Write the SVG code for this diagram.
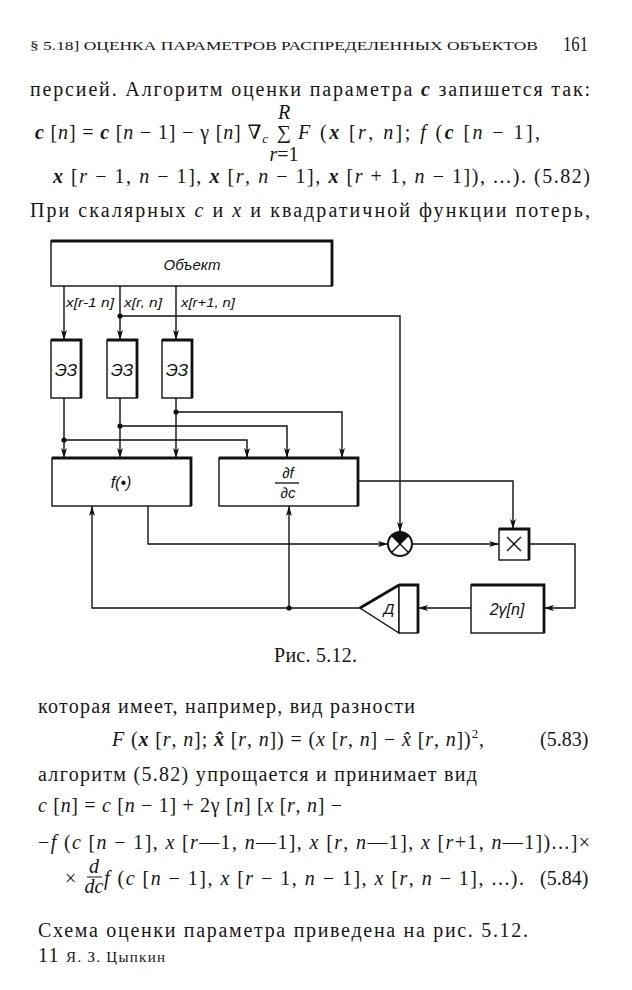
<svg xmlns="http://www.w3.org/2000/svg" width="632" height="990" viewBox="0 0 632 990">
<defs>
<style>
.t{font-family:"Liberation Serif","DejaVu Serif",serif;font-size:20px;fill:#161616}
.h{font-family:"Liberation Serif","DejaVu Serif",serif;font-size:13.5px;fill:#161616}
.i{font-style:italic}
.bi{font-style:italic;font-weight:bold}
.d{font-family:"Liberation Sans","DejaVu Sans",sans-serif;font-style:italic;fill:#111}
.box{fill:#fff;stroke:#111;stroke-width:1.4}
.thk{fill:none;stroke:#111;stroke-width:2.8;stroke-linejoin:miter}
.ln{fill:none;stroke:#111;stroke-width:1.4}
.arr{marker-end:url(#ah)}
</style>
<marker id="ah" viewBox="0 0 10 6" refX="10" refY="3" markerWidth="10" markerHeight="6" markerUnits="userSpaceOnUse" orient="auto">
<path d="M0,0 L10,3 L0,6 L2.5,3 Z" fill="#111"/>
</marker>
</defs>

<!-- page text -->
<g id="page-text">
<text class="h" x="30" y="50" textLength="508" lengthAdjust="spacingAndGlyphs">§ 5.18] ОЦЕНКА ПАРАМЕТРОВ РАСПРЕДЕЛЕННЫХ ОБЪЕКТОВ</text>
<text class="t" x="563" y="51" font-size="18" textLength="25" lengthAdjust="spacingAndGlyphs">161</text>

<text class="t" x="30" y="96" textLength="560" lengthAdjust="spacing">персией. Алгоритм оценки параметра <tspan class="bi">c</tspan> запишется так:</text>

<text class="t" x="35" y="139" textLength="233" lengthAdjust="spacing"><tspan class="bi">c</tspan> [<tspan class="i">n</tspan>] = <tspan class="bi">c</tspan> [<tspan class="i">n</tspan> − 1] − γ [<tspan class="i">n</tspan>] ∇<tspan class="i" font-size="13" dy="4">c</tspan></text>
<text class="t i" x="284" y="119" font-size="13" text-anchor="middle">R</text>
<text class="t" x="284" y="139" font-size="19" text-anchor="middle">∑</text>
<text class="t" x="284" y="161" font-size="11.5" text-anchor="middle"><tspan class="i">r</tspan>=1</text>
<text class="t" x="298" y="139" textLength="242" lengthAdjust="spacing"><tspan class="i">F</tspan> (<tspan class="bi">x</tspan> [<tspan class="i">r</tspan>, <tspan class="i">n</tspan>]; <tspan class="i">f</tspan> (<tspan class="bi">c</tspan> [<tspan class="i">n</tspan> − 1],</text>

<text class="t" x="53" y="183" textLength="537" lengthAdjust="spacing"><tspan class="bi">x</tspan> [<tspan class="i">r</tspan> − 1, <tspan class="i">n</tspan> − 1],  <tspan class="bi">x</tspan> [<tspan class="i">r</tspan>,  <tspan class="i">n</tspan> − 1],  <tspan class="bi">x</tspan> [<tspan class="i">r</tspan> + 1,  <tspan class="i">n</tspan> − 1]), ...). (5.82)</text>

<text class="t" x="30" y="217" textLength="560" lengthAdjust="spacing">При скалярных <tspan class="i">c</tspan> и <tspan class="i">x</tspan> и квадратичной функции потерь,</text>

<text class="t" x="274" y="662" font-size="16" textLength="83" lengthAdjust="spacing">Рис. 5.12.</text>

<text class="t" x="38" y="713" textLength="377" lengthAdjust="spacing">которая имеет, например, вид разности</text>

<text class="t" x="112" y="746" textLength="372" lengthAdjust="spacing"><tspan class="i">F</tspan> (<tspan class="bi">x</tspan> [<tspan class="i">r</tspan>,  <tspan class="i">n</tspan>];  <tspan class="bi">x̂</tspan> [<tspan class="i">r</tspan>,  <tspan class="i">n</tspan>]) = (<tspan class="i">x</tspan> [<tspan class="i">r</tspan>,  <tspan class="i">n</tspan>] − <tspan class="i">x̂</tspan> [<tspan class="i">r</tspan>,  <tspan class="i">n</tspan>])<tspan font-size="13" dy="-8">2</tspan><tspan dy="8">,</tspan></text>
<text class="t" x="540" y="746">(5.83)</text>

<text class="t" x="38" y="781" textLength="439" lengthAdjust="spacing">алгоритм (5.82) упрощается и принимает вид</text>

<text class="t" x="38" y="812" textLength="304" lengthAdjust="spacing"><tspan class="i">c</tspan> [<tspan class="i">n</tspan>] = <tspan class="i">c</tspan> [<tspan class="i">n</tspan> − 1] + 2γ [<tspan class="i">n</tspan>] [<tspan class="i">x</tspan> [<tspan class="i">r</tspan>, <tspan class="i">n</tspan>] −</text>

<text class="t" x="38" y="849" textLength="552" lengthAdjust="spacing">−<tspan class="i">f</tspan> (<tspan class="i">c</tspan> [<tspan class="i">n</tspan> − 1], <tspan class="i">x</tspan> [<tspan class="i">r</tspan>—1, <tspan class="i">n</tspan>—1], <tspan class="i">x</tspan> [<tspan class="i">r</tspan>, <tspan class="i">n</tspan>—1], <tspan class="i">x</tspan> [<tspan class="i">r</tspan>+1, <tspan class="i">n</tspan>—1])...]×</text>

<text class="t" x="65" y="885">×</text>
<text class="t i" x="94" y="873" font-size="13" text-anchor="middle">d</text>
<line x1="87" y1="877" x2="102" y2="877" stroke="#161616" stroke-width="1"/>
<text class="t i" x="94" y="893" font-size="13" text-anchor="middle">dc</text>
<text class="t" x="104" y="885" textLength="420" lengthAdjust="spacing"><tspan class="i">f</tspan> (<tspan class="i">c</tspan> [<tspan class="i">n</tspan> − 1],  <tspan class="i">x</tspan> [<tspan class="i">r</tspan> − 1, <tspan class="i">n</tspan> − 1],  <tspan class="i">x</tspan> [<tspan class="i">r</tspan>, <tspan class="i">n</tspan> − 1], ...).</text>
<text class="t" x="540" y="885">(5.84)</text>

<text class="t" x="38" y="937" textLength="490" lengthAdjust="spacing">Схема оценки параметра приведена на рис. 5.12.</text>
<text class="t" x="38" y="962" font-size="16" textLength="127" lengthAdjust="spacing">11 <tspan font-size="15">Я. З. Цыпкин</tspan></text>
</g>

<!-- connectors -->
<g id="connectors">
<line class="ln arr" x1="64" y1="286" x2="64" y2="340"/>
<line class="ln arr" x1="120" y1="286" x2="120" y2="340"/>
<line class="ln arr" x1="176" y1="286" x2="176" y2="340"/>
<polyline class="ln arr" points="120,316 400,316 400,532"/>
<line class="ln arr" x1="64" y1="398" x2="64" y2="458"/>
<line class="ln arr" x1="120" y1="398" x2="120" y2="458"/>
<line class="ln arr" x1="176" y1="398" x2="176" y2="458"/>
<polyline class="ln arr" points="64,440 247,440 247,458"/>
<polyline class="ln arr" points="120,426 287,426 287,458"/>
<polyline class="ln arr" points="176,412 342,412 342,458"/>
<polyline class="ln arr" points="358,481 513,481 513,529"/>
<polyline class="ln arr" points="148,506 148,544 388,544"/>
<line class="ln arr" x1="412" y1="544" x2="499" y2="544"/>
<polyline class="ln arr" points="529,544 575,544 575,608 544,608"/>
<line class="ln arr" x1="471" y1="608" x2="418" y2="608"/>
<polyline class="ln arr" points="360,608 92,608 92,506"/>
<line class="ln arr" x1="289" y1="608" x2="289" y2="506"/>
<g fill="#111">
<circle cx="120" cy="316" r="2.6"/>
<circle cx="64" cy="440" r="2.6"/>
<circle cx="120" cy="426" r="2.6"/>
<circle cx="176" cy="412" r="2.6"/>
<circle cx="289" cy="608" r="2.6"/>
</g>
<text class="d" x="66" y="307" font-size="13.5" textLength="48" lengthAdjust="spacingAndGlyphs">x[r-1 n]</text>
<text class="d" x="124" y="307" font-size="13.5" textLength="38" lengthAdjust="spacingAndGlyphs">x[r, n]</text>
<text class="d" x="181" y="307" font-size="13.5" textLength="54" lengthAdjust="spacingAndGlyphs">x[r+1, n]</text>
</g>

<!-- nodes -->
<g id="object">
<rect class="box" x="51" y="241" width="281" height="45"/>
<polyline class="thk" points="51,241 332,241 332,286"/>
<text class="d" x="192" y="270" font-size="15" text-anchor="middle">Объект</text>
</g>
<g id="delay1">
<rect class="box" x="51" y="340" width="30" height="58"/>
<polyline class="thk" points="51,340 81,340 81,398"/>
<text class="d" x="66" y="376" font-size="17" text-anchor="middle">ЭЗ</text>
</g>
<g id="delay2">
<rect class="box" x="107" y="340" width="30" height="58"/>
<polyline class="thk" points="107,340 137,340 137,398"/>
<text class="d" x="122" y="376" font-size="17" text-anchor="middle">ЭЗ</text>
</g>
<g id="delay3">
<rect class="box" x="162" y="340" width="30" height="58"/>
<polyline class="thk" points="162,340 192,340 192,398"/>
<text class="d" x="177" y="376" font-size="17" text-anchor="middle">ЭЗ</text>
</g>
<g id="f-block">
<rect class="box" x="52" y="458" width="139" height="48"/>
<polyline class="thk" points="52,458 191,458 191,506"/>
<text class="d" x="121" y="488" font-size="16" text-anchor="middle">f(•)</text>
</g>
<g id="df-block">
<rect class="box" x="219" y="458" width="139" height="48"/>
<polyline class="thk" points="219,458 358,458 358,506"/>
<text class="d" x="288" y="478" font-size="15" text-anchor="middle">∂f</text>
<line x1="275" y1="483" x2="299" y2="483" stroke="#111" stroke-width="1.3"/>
<text class="d" x="288" y="498" font-size="15" text-anchor="middle">∂c</text>
</g>
<g id="summator">
<circle cx="400" cy="544" r="12" fill="#fff" stroke="#111" stroke-width="2"/>
<path d="M400,544 L391.5,535.5 A12,12 0 0 1 408.5,535.5 Z" fill="#111"/>
<line x1="391.5" y1="535.5" x2="408.5" y2="552.5" stroke="#111" stroke-width="1.4"/>
<line x1="408.5" y1="535.5" x2="391.5" y2="552.5" stroke="#111" stroke-width="1.4"/>
</g>
<g id="multiplier">
<rect class="box" x="499" y="529" width="30" height="31"/>
<polyline class="thk" points="499,529 529,529 529,560"/>
<line x1="507" y1="537" x2="521" y2="551" stroke="#111" stroke-width="1.3"/>
<line x1="521" y1="537" x2="507" y2="551" stroke="#111" stroke-width="1.3"/>
</g>
<g id="gain">
<rect class="box" x="471" y="585" width="73" height="48"/>
<polyline class="thk" points="471,585 544,585 544,633"/>
<text class="d" x="507" y="615" font-size="16" text-anchor="middle">2γ[n]</text>
</g>
<g id="D-block">
<path class="box" d="M399,585 L360,608 L399,633 Z"/>
<line class="thk" x1="399" y1="585" x2="360" y2="608"/>
<rect class="box" x="399" y="585" width="19" height="48"/>
<polyline class="thk" points="399,585 418,585 418,633"/>
<text class="d" x="389" y="614" font-size="15" text-anchor="middle">Д</text>
</g>
</svg>
